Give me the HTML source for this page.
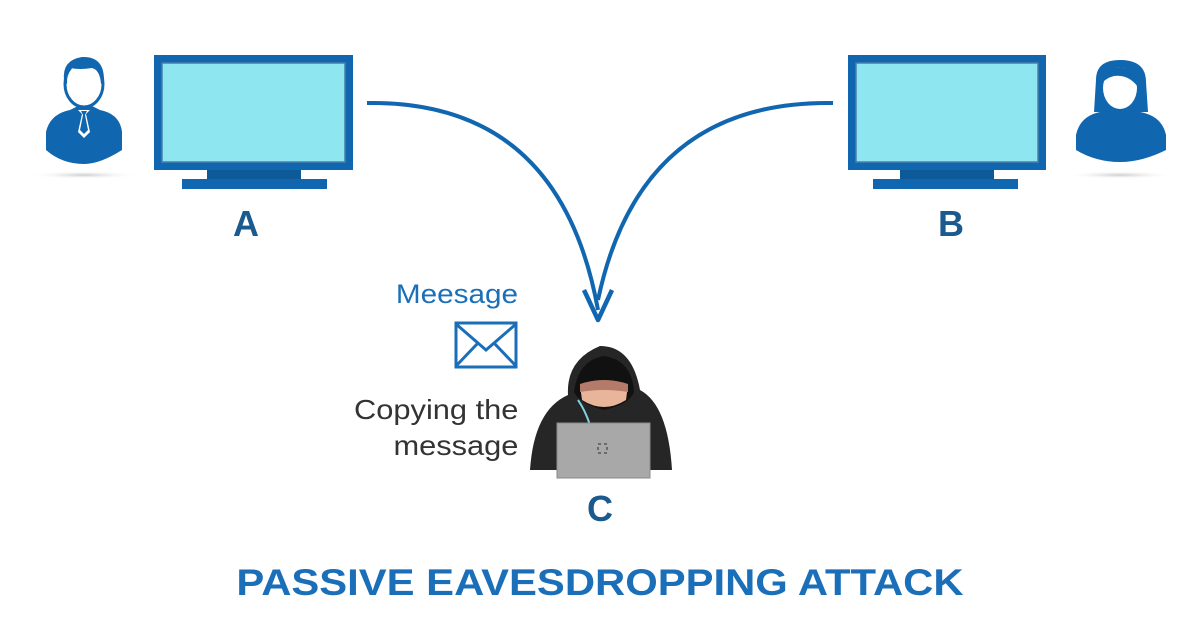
<!DOCTYPE html>
<html><head><style>
body{margin:0;width:1200px;height:630px;background:#fff;overflow:hidden;font-family:"Liberation Sans",sans-serif;position:relative}
.t{position:absolute;white-space:nowrap}
</style></head><body>
<svg width="1200" height="630" style="position:absolute;left:0;top:0">
<defs><radialGradient id="sh"><stop offset="0" stop-color="#ccc"/><stop offset="1" stop-color="#fff" stop-opacity="0"/></radialGradient></defs>
<ellipse cx="84" cy="175" rx="55" ry="4" fill="url(#sh)"/>
<ellipse cx="1120" cy="175" rx="55" ry="4" fill="url(#sh)"/>
<rect x="154" y="55" width="199" height="115" fill="#1166b0"/>
<rect x="162" y="63" width="183" height="99" fill="#8ee6f0" stroke="#4a7fa8" stroke-width="1.5"/>
<rect x="207" y="170" width="94" height="10" fill="#0e5a98"/>
<rect x="182" y="179" width="145" height="10" fill="#1166b0"/>
<rect x="848" y="55" width="198" height="115" fill="#1166b0"/>
<rect x="856" y="63" width="182" height="99" fill="#8ee6f0" stroke="#4a7fa8" stroke-width="1.5"/>
<rect x="900" y="170" width="94" height="10" fill="#0e5a98"/>
<rect x="873" y="179" width="145" height="10" fill="#1166b0"/>
<!-- Man -->
<g fill="#1166b0">
<path d="M46 132 Q50 114 70 110 L78 106 L92 106 L100 110 Q120 114 122 132 L122 150 Q100 164 84 164 Q62 164 46 150 Z"/>
<ellipse cx="84" cy="84" rx="19" ry="23" fill="#fff" stroke="#1166b0" stroke-width="3"/>
<path d="M64 80 Q62 60 82 57 Q104 56 104 80 L101 84 Q100 70 92 68 Q80 70 70 68 Q67 72 67 84 Z"/>
<path d="M78 110 L90 110 L86 114 L90 132 L84 138 L78 132 L82 114 Z" fill="#fff"/>
<path d="M81 111 L87 111 L85 115 L88 130 L84 134 L80 130 L83 115 Z"/>
</g>
<!-- Woman -->
<g fill="#1166b0">
<path d="M1076 135 Q1080 116 1100 112 L1140 112 Q1162 116 1166 135 L1166 150 Q1142 162 1120 162 Q1096 162 1076 150 Z"/>
<path d="M1096 80 Q1096 60 1120 60 Q1146 60 1146 82 L1148 112 L1094 112 Z"/>
<ellipse cx="1120" cy="88" rx="17" ry="21" fill="#fff"/>
<path d="M1101 84 Q1104 66 1122 67 Q1138 70 1140 90 Q1130 74 1114 76 Q1106 78 1101 84Z"/>
</g>
<path d="M367 103 Q560 100 598 310" fill="none" stroke="#1166b0" stroke-width="4"/>
<path d="M833 103 Q640 100 598 300" fill="none" stroke="#1166b0" stroke-width="4"/>
<path d="M584 290 L598 320 L612 290" fill="none" stroke="#1166b0" stroke-width="4.5" stroke-linejoin="round"/>
<rect x="456" y="323" width="60" height="44" fill="none" stroke="#1a6fb8" stroke-width="3"/>
<path d="M456 324 L486 350 L516 324 M456 366 L478 343 M516 366 L494 343" fill="none" stroke="#1a6fb8" stroke-width="3"/>
<path d="M530 470 Q534 410 568 395 Q566 360 600 346 Q632 346 640 390 Q668 405 672 470 Z" fill="#262626"/>
<path d="M574 392 Q578 360 604 356 Q632 360 634 392 Q630 404 604 410 Q580 404 574 392 Z" fill="#111"/>
<path d="M580 385 Q604 378 628 385 L626 400 Q604 414 582 400 Z" fill="#e8b59a"/>
<path d="M580 384 Q604 376 628 384 L628 392 Q604 388 580 392 Z" fill="#b47a6a"/>
<path d="M578 400 Q585 410 590 425" stroke="#7fd0e0" stroke-width="2" fill="none"/>
<rect x="557" y="423" width="93" height="55" fill="#a8a8a8"/>
<rect x="557" y="423" width="93" height="55" fill="none" stroke="#8a8a8a"/>
<rect x="598" y="444" width="9" height="9" fill="none" stroke="#555" stroke-width="1.5" stroke-dasharray="3 3"/>
</svg>
<div class="t" style="left:233px;top:203px;font-size:36px;font-weight:bold;color:#1a5a8e">A</div>
<div class="t" style="left:938px;top:203px;font-size:36px;font-weight:bold;color:#1a5a8e">B</div>
<div class="t" style="left:587px;top:488px;font-size:36px;font-weight:bold;color:#1a5a8e">C</div>
<div class="t" style="right:682px;top:279px;font-size:27px;color:#1a6fb8;transform:scaleX(1.1);transform-origin:right">Meesage</div>
<div class="t" style="right:682px;top:392px;font-size:28px;color:#333;text-align:right;line-height:36px;transform:scaleX(1.1);transform-origin:right">Copying the<br>message</div>
<div class="t" style="left:0;width:1200px;text-align:center;top:562px;font-size:37px;font-weight:bold;color:#1a6fb8;transform:scaleX(1.13);transform-origin:center">PASSIVE EAVESDROPPING ATTACK</div>
</body></html>
